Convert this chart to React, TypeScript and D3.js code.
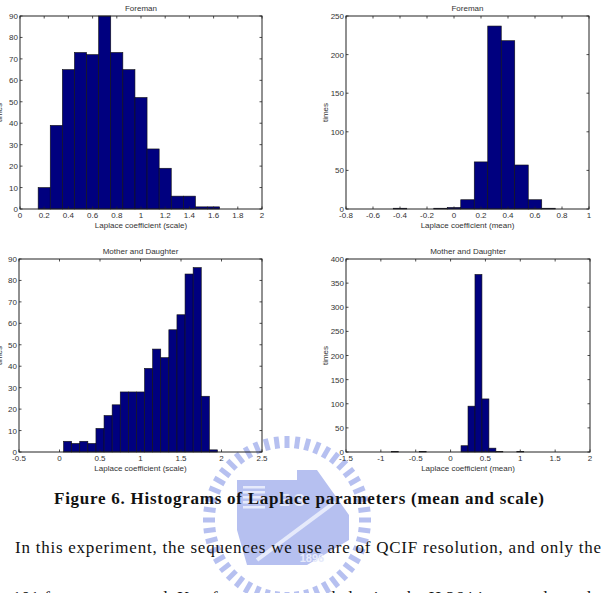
import * as d3 from "d3";

// histogram bins (centres, width 0.1) and counts
const binWidth = 0.1;

const foremanScaleCenters = [0.2, 0.3, 0.4, 0.5, 0.6, 0.7, 0.8, 0.9, 1.0, 1.1, 1.2, 1.3, 1.4, 1.5, 1.6];
const foremanScaleCounts = [10, 39, 65, 73, 72, 90, 73, 65, 52, 28, 19, 6, 6, 1, 1];

const foremanMeanCenters = [-0.4, -0.1, 0.0, 0.1, 0.2, 0.3, 0.4, 0.5, 0.6, 0.7];
const foremanMeanCounts = [1, 1, 2, 12, 61, 237, 218, 57, 12, 1];

const motherScaleCenters = [0.1, 0.2, 0.3, 0.4, 0.5, 0.6, 0.7, 0.8, 0.9, 1.0, 1.1, 1.2, 1.3, 1.4, 1.5, 1.6, 1.7, 1.8, 1.9];
const motherScaleCounts = [5, 4, 5, 4, 11, 17, 22, 28, 28, 28, 39, 48, 44, 57, 64, 83, 86, 26, 1];

const motherMeanCenters = [-0.8, -0.4, 0.2, 0.3, 0.4, 0.5, 0.6, 0.7, 1.0];
const motherMeanCounts = [1, 1, 13, 95, 368, 110, 8, 1, 1];

const panels = [
  { title: "Foreman", xLabel: "Laplace coefficient (scale)", centers: foremanScaleCenters, counts: foremanScaleCounts,
    xDomain: [0, 2], xStep: 0.2, yDomain: [0, 90], yStep: 10, box: [20, 262, 16, 209], yLabelX: -1 },
  { title: "Foreman", xLabel: "Laplace coefficient (mean)", centers: foremanMeanCenters, counts: foremanMeanCounts,
    xDomain: [-0.8, 1], xStep: 0.2, yDomain: [0, 250], yStep: 50, box: [346, 589, 16, 209], yLabelX: 325 },
  { title: "Mother and Daughter", xLabel: "Laplace coefficient (scale)", centers: motherScaleCenters, counts: motherScaleCounts,
    xDomain: [-0.5, 2.5], xStep: 0.5, yDomain: [0, 90], yStep: 10, box: [19, 262, 259, 452], yLabelX: -1 },
  { title: "Mother and Daughter", xLabel: "Laplace coefficient (mean)", centers: motherMeanCenters, counts: motherMeanCounts,
    xDomain: [-1.5, 2], xStep: 0.5, yDomain: [0, 400], yStep: 50, box: [346, 590, 259, 452], yLabelX: 325 },
];

const caption = "Figure 6. Histograms of Laplace parameters (mean and scale)";
const bodyLine1 = "In this experiment, the sequences we use are of QCIF resolution, and only the";
const bodyLine2 = "first 101 frames are tested. Key frames are encoded using the H.264 intra mode, and the";

const fmt = (v: number) => String(+v.toFixed(2));
const tickFont = "Liberation Sans, Arial, sans-serif";

function Panel({ p }: { p: (typeof panels)[number] }) {
  const [l, r, t, b] = p.box;
  const x = d3.scaleLinear().domain(p.xDomain).range([l, r]);
  const y = d3.scaleLinear().domain(p.yDomain).range([b, t]);
  const xTicks = d3.range(p.xDomain[0], p.xDomain[1] + 1e-9, p.xStep).map((v) => +v.toFixed(2));
  const yTicks = d3.range(p.yDomain[0], p.yDomain[1] + 1e-9, p.yStep);
  const tl = 2.5;
  return (
    <g>
      {p.centers.map((c, i) => (
        <rect key={i} x={x(c - binWidth / 2)} y={y(p.counts[i])}
          width={x(c + binWidth / 2) - x(c - binWidth / 2)} height={b - y(p.counts[i])}
          fill="#00007f" stroke="#111" strokeWidth={0.6} />
      ))}
      <rect x={l} y={t} width={r - l} height={b - t} fill="none" stroke="#222" strokeWidth={1} />
      {xTicks.map((v) => (
        <g key={"x" + v}>
          <line x1={x(v)} x2={x(v)} y1={b} y2={b - tl} stroke="#222" strokeWidth={0.8} />
          <line x1={x(v)} x2={x(v)} y1={t} y2={t + tl} stroke="#222" strokeWidth={0.8} />
          <text x={x(v)} y={b + 9} fontSize={8} textAnchor="middle" fill="#333" fontFamily={tickFont}>{fmt(v)}</text>
        </g>
      ))}
      {yTicks.map((v) => (
        <g key={"y" + v}>
          <line x1={l} x2={l + tl} y1={y(v)} y2={y(v)} stroke="#222" strokeWidth={0.8} />
          <line x1={r} x2={r - tl} y1={y(v)} y2={y(v)} stroke="#222" strokeWidth={0.8} />
          <text x={l - 2} y={y(v) + 3} fontSize={8} textAnchor="end" fill="#333" fontFamily={tickFont}>{fmt(v)}</text>
        </g>
      ))}
      <text x={(l + r) / 2} y={t - 5} fontSize={8} textAnchor="middle" fill="#333" fontFamily={tickFont}>{p.title}</text>
      <text x={(l + r) / 2} y={b + 19} fontSize={8} textAnchor="middle" fill="#333" fontFamily={tickFont}>{p.xLabel}</text>
      <text transform={`translate(${p.yLabelX},${(t + b) / 2}) rotate(-90)`} dy={3} fontSize={8}
        textAnchor="middle" fill="#333" fontFamily={tickFont}>times</text>
    </g>
  );
}

function Watermark() {
  const cx = 287, cy = 520, R = 78;
  const teeth = d3.range(48);
  const col = "#aab6ee";
  return (
    <g opacity={0.85}>
      {teeth.map((i) => {
        const a = (i / teeth.length) * Math.PI * 2;
        return (
          <rect key={i} x={-2.5} y={-R - 6} width={5} height={12} fill={col}
            transform={`translate(${cx},${cy}) rotate(${(a * 180) / Math.PI})`} />
        );
      })}
      <path d={`M${cx - 50},${cy - 40} L${cx + 10},${cy - 40} L${cx + 10},${cy - 50} L${cx + 30},${cy - 50}
        L${cx + 62},${cy - 5} L${cx + 62},${cy + 20} L${cx + 20},${cy + 45} L${cx - 40},${cy + 45} L${cx - 50},${cy + 10} Z`}
        fill={col} />
      {d3.range(5).map((i) => (
        <rect key={i} x={cx - 44} y={cy - 34 + i * 5} width={22} height={2.5} fill="#e2e7fb" />
      ))}
      <text x={cx - 8} y={cy - 14} fontSize={16} fontWeight="bold" fill="#e2e7fb" fontFamily="Liberation Sans, Arial">E S</text>
      <line x1={cx - 30} y1={cy + 40} x2={cx + 48} y2={cy - 18} stroke="#e2e7fb" strokeWidth={4} />
      <text x={cx + 25} y={cy + 42} fontSize={11} fontWeight="bold" textAnchor="middle" fill="#e2e7fb"
        fontFamily="Liberation Sans, Arial">1896</text>
    </g>
  );
}

export default function App() {
  return (
    <svg width={601} height={593} style={{ position: "absolute", left: 0, top: 0, background: "#fff" }}>
      <rect width={601} height={593} fill="#fff" />
      <Watermark />
      {panels.map((p, i) => (
        <Panel key={i} p={p} />
      ))}
      <text x={299} y={504} fontSize={17} fontWeight="bold" textAnchor="middle" textLength={490}
        fontFamily="Liberation Serif, Times New Roman, serif" fill="#111">{caption}</text>
      <text x={15} y={553} fontSize={17} textLength={586} fontFamily="Liberation Serif, Times New Roman, serif"
        fill="#111">{bodyLine1}</text>
      <text x={-22} y={603} fontSize={17} textLength={640} fontFamily="Liberation Serif, Times New Roman, serif"
        fill="#111">{bodyLine2}</text>
    </svg>
  );
}
